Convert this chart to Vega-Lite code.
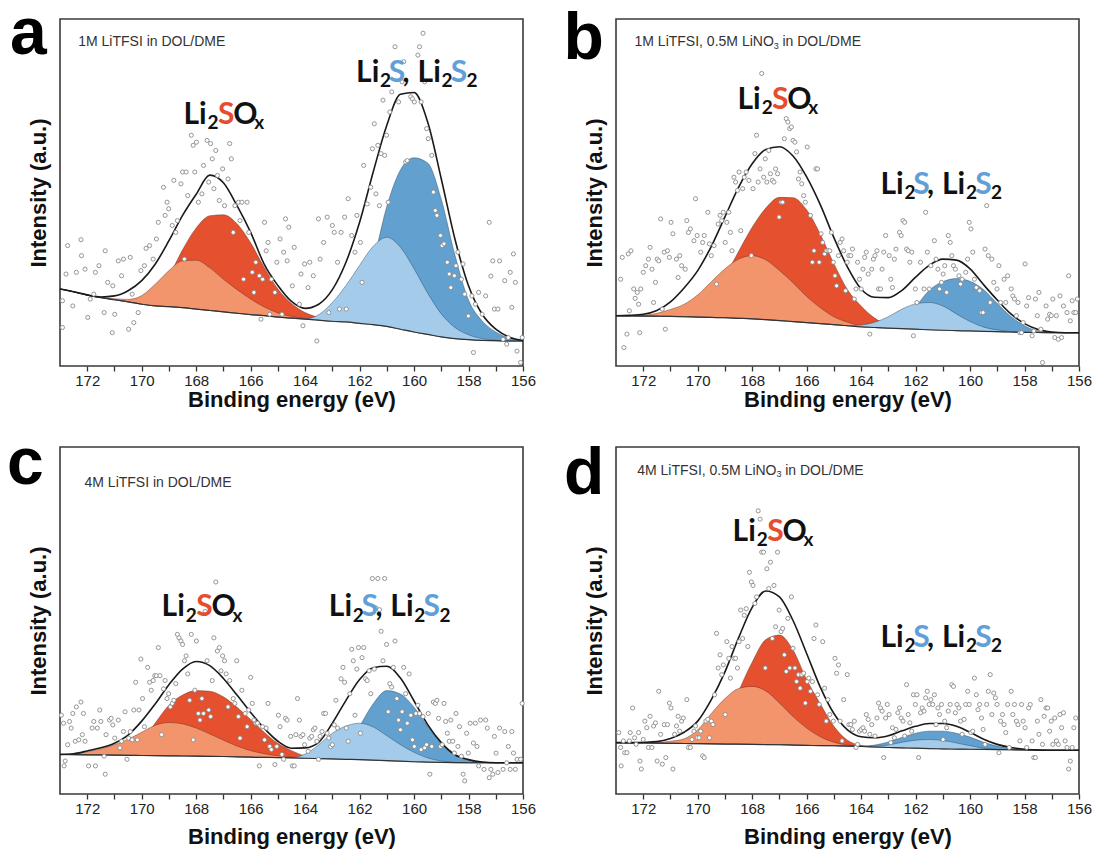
{
"$schema":"https://vega.github.io/schema/vega-lite/v6.json",
"padding":{"left":6,"top":0,"right":5,"bottom":5},
"bounds":"flush",
"columns":2,
"spacing":{"row":81,"column":93},
"datasets":{
"cv":[
{"p":"a","E":173,"base":22.2,"o":22.2,"r":22.2,"lb":22.2,"db":22.2,"env":22.2},
{"p":"a","E":172.5,"base":21.4,"o":21.4,"r":21.4,"lb":21.4,"db":21.4,"env":21.4},
{"p":"a","E":172,"base":20.4,"o":20.5,"r":20.4,"lb":20.4,"db":20.4,"env":20.5},
{"p":"a","E":171.5,"base":19.7,"o":19.8,"r":19.7,"lb":19.7,"db":19.7,"env":19.9},
{"p":"a","E":171,"base":19.1,"o":19.4,"r":19.1,"lb":19.1,"db":19.1,"env":20.2},
{"p":"a","E":170.5,"base":18.5,"o":19.2,"r":18.6,"lb":18.5,"db":18.5,"env":21.7},
{"p":"a","E":170,"base":17.8,"o":20.3,"r":18.6,"lb":17.8,"db":17.8,"env":24.6},
{"p":"a","E":169.5,"base":17.3,"o":23.6,"r":21.0,"lb":17.3,"db":17.3,"env":29.4},
{"p":"a","E":169,"base":17.1,"o":27.5,"r":26.0,"lb":17.1,"db":17.1,"env":36.1},
{"p":"a","E":168.5,"base":16.8,"o":30.3,"r":33.5,"lb":16.8,"db":16.8,"env":43.4},
{"p":"a","E":168,"base":16.4,"o":30.5,"r":39.8,"lb":16.4,"db":16.4,"env":49.5},
{"p":"a","E":167.5,"base":16.0,"o":28.3,"r":43.3,"lb":16.0,"db":16.0,"env":55.0},
{"p":"a","E":167,"base":15.6,"o":25.0,"r":43.6,"lb":15.6,"db":15.6,"env":52.8},
{"p":"a","E":166.5,"base":15.2,"o":22.0,"r":41.0,"lb":15.2,"db":15.2,"env":46.2},
{"p":"a","E":166,"base":14.8,"o":19.3,"r":35.5,"lb":14.8,"db":14.8,"env":38.5},
{"p":"a","E":165.5,"base":14.5,"o":17.0,"r":28.4,"lb":14.5,"db":14.5,"env":29.3},
{"p":"a","E":165,"base":14.1,"o":15.3,"r":22.2,"lb":14.1,"db":14.1,"env":23.2},
{"p":"a","E":164.5,"base":13.8,"o":14.3,"r":18.0,"lb":13.8,"db":13.8,"env":18.6},
{"p":"a","E":164,"base":13.5,"o":13.7,"r":15.4,"lb":13.6,"db":13.5,"env":16.6},
{"p":"a","E":163.5,"base":13.2,"o":13.3,"r":14.0,"lb":14.8,"db":13.2,"env":17.8},
{"p":"a","E":163,"base":12.9,"o":12.9,"r":13.2,"lb":18.3,"db":13.0,"env":22.0},
{"p":"a","E":162.5,"base":12.7,"o":12.7,"r":12.8,"lb":23.2,"db":14.0,"env":29.9},
{"p":"a","E":162,"base":12.3,"o":12.3,"r":12.3,"lb":29.0,"db":18.0,"env":41.4},
{"p":"a","E":161.5,"base":11.9,"o":11.9,"r":11.9,"lb":34.5,"db":30.0,"env":55.9},
{"p":"a","E":161,"base":11.4,"o":11.4,"r":11.4,"lb":37.1,"db":46.0,"env":69.4},
{"p":"a","E":160.5,"base":10.6,"o":10.6,"r":10.6,"lb":34.2,"db":56.5,"env":78.3},
{"p":"a","E":160,"base":9.8,"o":9.8,"r":9.8,"lb":28.0,"db":60.0,"env":78.8},
{"p":"a","E":159.5,"base":9.1,"o":9.1,"r":9.1,"lb":21.0,"db":58.5,"env":70.3},
{"p":"a","E":159,"base":8.4,"o":8.4,"r":8.4,"lb":15.0,"db":48.0,"env":53.9},
{"p":"a","E":158.5,"base":7.9,"o":7.9,"r":7.9,"lb":11.1,"db":32.0,"env":36.6},
{"p":"a","E":158,"base":7.6,"o":7.6,"r":7.6,"lb":9.0,"db":19.0,"env":23.1},
{"p":"a","E":157.5,"base":7.4,"o":7.4,"r":7.4,"lb":7.9,"db":13.0,"env":14.9},
{"p":"a","E":157,"base":7.3,"o":7.3,"r":7.3,"lb":7.4,"db":9.8,"env":10.6},
{"p":"a","E":156.5,"base":7.2,"o":7.2,"r":7.2,"lb":7.2,"db":8.0,"env":8.3},
{"p":"a","E":156,"base":7.2,"o":7.2,"r":7.2,"lb":7.2,"db":7.3,"env":7.4},
{"p":"b","E":173,"base":14.5,"o":14.5,"r":14.5,"lb":14.5,"db":14.5,"env":14.5},
{"p":"b","E":172.5,"base":14.45,"o":14.5,"r":14.45,"lb":14.45,"db":14.45,"env":14.6},
{"p":"b","E":172,"base":14.4,"o":14.6,"r":14.4,"lb":14.4,"db":14.4,"env":14.9},
{"p":"b","E":171.5,"base":14.35,"o":15.2,"r":14.4,"lb":14.35,"db":14.35,"env":16.0},
{"p":"b","E":171,"base":14.3,"o":16.3,"r":14.8,"lb":14.3,"db":14.3,"env":18.5},
{"p":"b","E":170.5,"base":14.2,"o":17.8,"r":15.8,"lb":14.2,"db":14.2,"env":22.5},
{"p":"b","E":170,"base":14.1,"o":20.5,"r":18.4,"lb":14.1,"db":14.1,"env":27.5},
{"p":"b","E":169.5,"base":14.0,"o":24.3,"r":21.5,"lb":14.0,"db":14.0,"env":34.5},
{"p":"b","E":169,"base":13.9,"o":28.0,"r":26.0,"lb":13.9,"db":13.9,"env":43.0},
{"p":"b","E":168.5,"base":13.75,"o":30.8,"r":33.0,"lb":13.75,"db":13.75,"env":51.5},
{"p":"b","E":168,"base":13.6,"o":31.8,"r":40.0,"lb":13.6,"db":13.6,"env":58.3},
{"p":"b","E":167.5,"base":13.35,"o":30.6,"r":45.5,"lb":13.35,"db":13.35,"env":62.4},
{"p":"b","E":167,"base":13.1,"o":27.5,"r":48.6,"lb":13.1,"db":13.1,"env":63.2},
{"p":"b","E":166.5,"base":12.8,"o":24.0,"r":48.5,"lb":12.8,"db":12.8,"env":60.5},
{"p":"b","E":166,"base":12.5,"o":20.0,"r":45.0,"lb":12.5,"db":12.5,"env":54.5},
{"p":"b","E":165.5,"base":12.2,"o":16.8,"r":38.0,"lb":12.2,"db":12.2,"env":46.5},
{"p":"b","E":165,"base":11.9,"o":14.2,"r":29.5,"lb":11.9,"db":11.9,"env":37.0},
{"p":"b","E":164.5,"base":11.6,"o":12.6,"r":22.0,"lb":11.6,"db":11.6,"env":28.5},
{"p":"b","E":164,"base":11.3,"o":11.6,"r":17.3,"lb":11.8,"db":11.3,"env":22.2},
{"p":"b","E":163.5,"base":11.1,"o":11.1,"r":13.8,"lb":12.6,"db":11.1,"env":19.8},
{"p":"b","E":163,"base":10.9,"o":10.9,"r":11.8,"lb":14.2,"db":11.0,"env":19.7},
{"p":"b","E":162.5,"base":10.75,"o":10.75,"r":11.0,"lb":16.4,"db":12.5,"env":21.8},
{"p":"b","E":162,"base":10.6,"o":10.6,"r":10.6,"lb":17.9,"db":17.0,"env":25.6},
{"p":"b","E":161.5,"base":10.45,"o":10.45,"r":10.45,"lb":18.3,"db":21.8,"env":29.0},
{"p":"b","E":161,"base":10.3,"o":10.3,"r":10.3,"lb":17.3,"db":24.3,"env":30.8},
{"p":"b","E":160.5,"base":10.2,"o":10.2,"r":10.2,"lb":15.0,"db":25.2,"env":30.5},
{"p":"b","E":160,"base":10.1,"o":10.1,"r":10.1,"lb":12.8,"db":24.4,"env":28.0},
{"p":"b","E":159.5,"base":10.0,"o":10.0,"r":10.0,"lb":11.2,"db":22.0,"env":23.4},
{"p":"b","E":159,"base":9.9,"o":9.9,"r":9.9,"lb":10.4,"db":18.0,"env":19.0},
{"p":"b","E":158.5,"base":9.8,"o":9.8,"r":9.8,"lb":9.9,"db":14.3,"env":15.0},
{"p":"b","E":158,"base":9.7,"o":9.7,"r":9.7,"lb":9.7,"db":11.6,"env":12.2},
{"p":"b","E":157.5,"base":9.65,"o":9.65,"r":9.65,"lb":9.65,"db":10.1,"env":10.5},
{"p":"b","E":157,"base":9.6,"o":9.6,"r":9.6,"lb":9.6,"db":9.7,"env":9.8},
{"p":"b","E":156.5,"base":9.6,"o":9.6,"r":9.6,"lb":9.6,"db":9.6,"env":9.6},
{"p":"b","E":156,"base":9.6,"o":9.6,"r":9.6,"lb":9.6,"db":9.6,"env":9.6},
{"p":"c","E":173,"base":11.4,"o":11.4,"r":11.4,"lb":11.4,"db":11.4,"env":11.4},
{"p":"c","E":172.5,"base":11.35,"o":11.5,"r":11.35,"lb":11.35,"db":11.35,"env":11.6},
{"p":"c","E":172,"base":11.3,"o":12.2,"r":11.3,"lb":11.3,"db":11.3,"env":12.4},
{"p":"c","E":171.5,"base":11.25,"o":13.0,"r":11.3,"lb":11.25,"db":11.25,"env":13.3},
{"p":"c","E":171,"base":11.2,"o":14.2,"r":11.5,"lb":11.2,"db":11.2,"env":14.6},
{"p":"c","E":170.5,"base":11.15,"o":15.8,"r":12.5,"lb":11.15,"db":11.15,"env":17.0},
{"p":"c","E":170,"base":11.1,"o":17.8,"r":15.0,"lb":11.1,"db":11.1,"env":21.0},
{"p":"c","E":169.5,"base":11.05,"o":19.8,"r":20.5,"lb":11.05,"db":11.05,"env":26.0},
{"p":"c","E":169,"base":11.0,"o":20.6,"r":25.6,"lb":11.0,"db":11.0,"env":31.5},
{"p":"c","E":168.5,"base":10.95,"o":20.2,"r":28.5,"lb":10.95,"db":10.95,"env":36.0},
{"p":"c","E":168,"base":10.9,"o":19.0,"r":29.8,"lb":10.9,"db":10.9,"env":38.2},
{"p":"c","E":167.5,"base":10.85,"o":17.3,"r":29.6,"lb":10.85,"db":10.85,"env":37.0},
{"p":"c","E":167,"base":10.8,"o":15.5,"r":28.0,"lb":10.8,"db":10.8,"env":33.3},
{"p":"c","E":166.5,"base":10.7,"o":13.8,"r":25.0,"lb":10.7,"db":10.7,"env":28.5},
{"p":"c","E":166,"base":10.6,"o":12.5,"r":21.5,"lb":10.6,"db":10.6,"env":23.5},
{"p":"c","E":165.5,"base":10.55,"o":11.6,"r":17.8,"lb":10.55,"db":10.55,"env":18.9},
{"p":"c","E":165,"base":10.5,"o":11.0,"r":14.6,"lb":10.5,"db":10.5,"env":15.2},
{"p":"c","E":164.5,"base":10.4,"o":10.6,"r":12.5,"lb":10.5,"db":10.4,"env":13.2},
{"p":"c","E":164,"base":10.3,"o":10.3,"r":11.0,"lb":11.5,"db":10.3,"env":13.3},
{"p":"c","E":163.5,"base":10.2,"o":10.2,"r":10.4,"lb":14.2,"db":10.2,"env":14.9},
{"p":"c","E":163,"base":10.1,"o":10.1,"r":10.1,"lb":17.5,"db":10.6,"env":20.4},
{"p":"c","E":162.5,"base":10.0,"o":10.0,"r":10.0,"lb":19.6,"db":13.5,"env":27.0},
{"p":"c","E":162,"base":9.9,"o":9.9,"r":9.9,"lb":20.4,"db":19.5,"env":33.0},
{"p":"c","E":161.5,"base":9.75,"o":9.75,"r":9.75,"lb":19.3,"db":26.0,"env":36.4},
{"p":"c","E":161,"base":9.6,"o":9.6,"r":9.6,"lb":16.8,"db":29.8,"env":36.8},
{"p":"c","E":160.5,"base":9.45,"o":9.45,"r":9.45,"lb":14.2,"db":28.8,"env":33.4},
{"p":"c","E":160,"base":9.3,"o":9.3,"r":9.3,"lb":12.0,"db":25.0,"env":26.8},
{"p":"c","E":159.5,"base":9.2,"o":9.2,"r":9.2,"lb":10.4,"db":19.5,"env":20.0},
{"p":"c","E":159,"base":9.1,"o":9.1,"r":9.1,"lb":9.5,"db":14.5,"env":14.8},
{"p":"c","E":158.5,"base":9.05,"o":9.05,"r":9.05,"lb":9.1,"db":11.2,"env":11.3},
{"p":"c","E":158,"base":9.0,"o":9.0,"r":9.0,"lb":9.0,"db":9.8,"env":9.9},
{"p":"c","E":157.5,"base":9.0,"o":9.0,"r":9.0,"lb":9.0,"db":9.2,"env":9.2},
{"p":"c","E":157,"base":9.0,"o":9.0,"r":9.0,"lb":9.0,"db":9.0,"env":9.0},
{"p":"c","E":156.5,"base":9.0,"o":9.0,"r":9.0,"lb":9.0,"db":9.0,"env":9.0},
{"p":"c","E":156,"base":9.0,"o":9.0,"r":9.0,"lb":9.0,"db":9.0,"env":9.0},
{"p":"d","E":173,"base":14.8,"o":14.8,"r":14.8,"lb":14.8,"db":14.8,"env":14.8},
{"p":"d","E":172.5,"base":14.75,"o":14.75,"r":14.75,"lb":14.75,"db":14.75,"env":14.8},
{"p":"d","E":172,"base":14.7,"o":14.7,"r":14.7,"lb":14.7,"db":14.7,"env":14.9},
{"p":"d","E":171.5,"base":14.65,"o":14.8,"r":14.65,"lb":14.65,"db":14.65,"env":15.1},
{"p":"d","E":171,"base":14.6,"o":15.2,"r":14.6,"lb":14.6,"db":14.6,"env":16.0},
{"p":"d","E":170.5,"base":14.55,"o":15.9,"r":14.55,"lb":14.55,"db":14.55,"env":17.8},
{"p":"d","E":170,"base":14.5,"o":18.5,"r":14.6,"lb":14.5,"db":14.5,"env":21.0},
{"p":"d","E":169.5,"base":14.45,"o":23.2,"r":15.5,"lb":14.45,"db":14.45,"env":27.2},
{"p":"d","E":169,"base":14.4,"o":27.5,"r":19.0,"lb":14.4,"db":14.4,"env":35.2},
{"p":"d","E":168.5,"base":14.35,"o":30.4,"r":29.5,"lb":14.35,"db":14.35,"env":45.0},
{"p":"d","E":168,"base":14.3,"o":31.0,"r":38.0,"lb":14.3,"db":14.3,"env":53.8},
{"p":"d","E":167.5,"base":14.25,"o":29.7,"r":44.5,"lb":14.25,"db":14.25,"env":58.5},
{"p":"d","E":167,"base":14.2,"o":26.2,"r":45.8,"lb":14.2,"db":14.2,"env":56.8},
{"p":"d","E":166.5,"base":14.1,"o":22.3,"r":41.5,"lb":14.1,"db":14.1,"env":50.0},
{"p":"d","E":166,"base":14.0,"o":19.0,"r":33.0,"lb":14.0,"db":14.0,"env":40.5},
{"p":"d","E":165.5,"base":13.95,"o":16.5,"r":26.0,"lb":13.95,"db":13.95,"env":30.8},
{"p":"d","E":165,"base":13.9,"o":14.9,"r":19.5,"lb":13.9,"db":13.9,"env":23.2},
{"p":"d","E":164.5,"base":13.8,"o":14.1,"r":15.5,"lb":13.8,"db":13.8,"env":18.5},
{"p":"d","E":164,"base":13.7,"o":13.8,"r":14.0,"lb":13.7,"db":13.8,"env":16.5},
{"p":"d","E":163.5,"base":13.55,"o":13.55,"r":13.55,"lb":13.7,"db":14.1,"env":16.2},
{"p":"d","E":163,"base":13.4,"o":13.4,"r":13.4,"lb":14.1,"db":15.0,"env":16.8},
{"p":"d","E":162.5,"base":13.3,"o":13.3,"r":13.3,"lb":14.9,"db":16.3,"env":18.2},
{"p":"d","E":162,"base":13.2,"o":13.2,"r":13.2,"lb":15.5,"db":17.5,"env":19.5},
{"p":"d","E":161.5,"base":13.1,"o":13.1,"r":13.1,"lb":15.7,"db":18.1,"env":20.3},
{"p":"d","E":161,"base":13.0,"o":13.0,"r":13.0,"lb":15.4,"db":18.1,"env":20.3},
{"p":"d","E":160.5,"base":12.95,"o":12.95,"r":12.95,"lb":14.7,"db":17.5,"env":19.5},
{"p":"d","E":160,"base":12.9,"o":12.9,"r":12.9,"lb":13.9,"db":16.4,"env":17.8},
{"p":"d","E":159.5,"base":12.85,"o":12.85,"r":12.85,"lb":13.2,"db":14.9,"env":15.8},
{"p":"d","E":159,"base":12.8,"o":12.8,"r":12.8,"lb":12.9,"db":13.8,"env":14.3},
{"p":"d","E":158.5,"base":12.75,"o":12.75,"r":12.75,"lb":12.75,"db":13.1,"env":13.4},
{"p":"d","E":158,"base":12.7,"o":12.7,"r":12.7,"lb":12.7,"db":12.8,"env":12.9},
{"p":"d","E":157.5,"base":12.65,"o":12.65,"r":12.65,"lb":12.65,"db":12.65,"env":12.7},
{"p":"d","E":157,"base":12.6,"o":12.6,"r":12.6,"lb":12.6,"db":12.6,"env":12.6},
{"p":"d","E":156.5,"base":12.6,"o":12.6,"r":12.6,"lb":12.6,"db":12.6,"env":12.6},
{"p":"d","E":156,"base":12.6,"o":12.6,"r":12.6,"lb":12.6,"db":12.6,"env":12.6}
],
"pts":[
{"p":"a","E":172.91,"I":18.8},{"p":"a","E":172.91,"I":11.1},{"p":"a","E":172.78,"I":26.5},{"p":"a","E":172.72,"I":34.7},{"p":"a","E":172.53,"I":17.3},{"p":"a","E":172.4,"I":27.0},{"p":"a","E":172.23,"I":36.4},{"p":"a","E":172.21,"I":31.8},{"p":"a","E":172.08,"I":27.9},{"p":"a","E":171.98,"I":14.0},{"p":"a","E":171.89,"I":19.3},{"p":"a","E":171.76,"I":20.7},{"p":"a","E":171.7,"I":27.0},{"p":"a","E":171.57,"I":28.9},{"p":"a","E":171.38,"I":15.4},{"p":"a","E":171.34,"I":33.2},{"p":"a","E":171.25,"I":24.1},{"p":"a","E":171.08,"I":9.6},{"p":"a","E":171.06,"I":23.1},{"p":"a","E":170.99,"I":14.9},{"p":"a","E":170.86,"I":30.3},{"p":"a","E":170.74,"I":26.0},{"p":"a","E":170.67,"I":30.8},{"p":"a","E":170.48,"I":10.6},{"p":"a","E":170.42,"I":31.3},{"p":"a","E":170.35,"I":20.7},{"p":"a","E":170.29,"I":12.5},{"p":"a","E":170.13,"I":15.4},{"p":"a","E":170.03,"I":27.5},{"p":"a","E":169.9,"I":28.9},{"p":"a","E":169.84,"I":33.9},{"p":"a","E":169.71,"I":34.7},{"p":"a","E":169.58,"I":30.8},{"p":"a","E":169.46,"I":36.6},{"p":"a","E":169.39,"I":41.4},{"p":"a","E":169.2,"I":51.5},{"p":"a","E":169.14,"I":43.4},{"p":"a","E":169.07,"I":47.2},{"p":"a","E":169.01,"I":45.3},{"p":"a","E":168.88,"I":40.5},{"p":"a","E":168.82,"I":53.5},{"p":"a","E":168.75,"I":38.5},{"p":"a","E":168.69,"I":41.9},{"p":"a","E":168.56,"I":52.5},{"p":"a","E":168.5,"I":55.9},{"p":"a","E":168.43,"I":30.8},{"p":"a","E":168.37,"I":55.9},{"p":"a","E":168.31,"I":49.1},{"p":"a","E":168.18,"I":66.5},{"p":"a","E":168.11,"I":63.6},{"p":"a","E":168.05,"I":55.9},{"p":"a","E":167.99,"I":64.5},{"p":"a","E":167.92,"I":47.2},{"p":"a","E":167.79,"I":49.6},{"p":"a","E":167.73,"I":57.8},{"p":"a","E":167.6,"I":65.0},{"p":"a","E":167.54,"I":53.0},{"p":"a","E":167.47,"I":64.1},{"p":"a","E":167.41,"I":59.7},{"p":"a","E":167.35,"I":51.1},{"p":"a","E":167.28,"I":62.1},{"p":"a","E":167.22,"I":54.9},{"p":"a","E":167.15,"I":47.7},{"p":"a","E":167.03,"I":56.8},{"p":"a","E":166.96,"I":46.2},{"p":"a","E":166.83,"I":53.9},{"p":"a","E":166.77,"I":64.1},{"p":"a","E":166.71,"I":59.7},{"p":"a","E":166.64,"I":38.5},{"p":"a","E":166.58,"I":46.2},{"p":"a","E":166.45,"I":47.2},{"p":"a","E":166.39,"I":41.9},{"p":"a","E":166.32,"I":47.2},{"p":"a","E":166.26,"I":25.0},{"p":"a","E":166.13,"I":47.2},{"p":"a","E":166.07,"I":38.5},{"p":"a","E":165.94,"I":27.0},{"p":"a","E":165.88,"I":21.2},{"p":"a","E":165.81,"I":29.9},{"p":"a","E":165.68,"I":26.0},{"p":"a","E":165.62,"I":13.5},{"p":"a","E":165.56,"I":25.0},{"p":"a","E":165.49,"I":41.4},{"p":"a","E":165.43,"I":33.2},{"p":"a","E":165.36,"I":35.6},{"p":"a","E":165.3,"I":14.9},{"p":"a","E":165.24,"I":25.0},{"p":"a","E":165.11,"I":21.2},{"p":"a","E":165.04,"I":29.9},{"p":"a","E":164.92,"I":36.6},{"p":"a","E":164.85,"I":14.9},{"p":"a","E":164.79,"I":32.8},{"p":"a","E":164.72,"I":42.4},{"p":"a","E":164.66,"I":30.3},{"p":"a","E":164.6,"I":40.0},{"p":"a","E":164.47,"I":23.1},{"p":"a","E":164.4,"I":34.2},{"p":"a","E":164.21,"I":17.8},{"p":"a","E":164.15,"I":26.5},{"p":"a","E":164.08,"I":11.6},{"p":"a","E":164.02,"I":29.4},{"p":"a","E":163.89,"I":22.6},{"p":"a","E":163.83,"I":29.9},{"p":"a","E":163.7,"I":26.0},{"p":"a","E":163.57,"I":7.2},{"p":"a","E":163.51,"I":42.4},{"p":"a","E":163.45,"I":30.8},{"p":"a","E":163.32,"I":35.6},{"p":"a","E":163.19,"I":42.9},{"p":"a","E":163.13,"I":15.4},{"p":"a","E":163.0,"I":40.5},{"p":"a","E":162.93,"I":38.5},{"p":"a","E":162.81,"I":29.9},{"p":"a","E":162.74,"I":16.4},{"p":"a","E":162.68,"I":38.5},{"p":"a","E":162.55,"I":42.9},{"p":"a","E":162.49,"I":16.4},{"p":"a","E":162.42,"I":48.2},{"p":"a","E":162.29,"I":37.6},{"p":"a","E":162.17,"I":32.8},{"p":"a","E":162.1,"I":43.4},{"p":"a","E":161.97,"I":35.6},{"p":"a","E":161.91,"I":24.1},{"p":"a","E":161.85,"I":57.8},{"p":"a","E":161.72,"I":46.7},{"p":"a","E":161.59,"I":51.5},{"p":"a","E":161.53,"I":62.6},{"p":"a","E":161.46,"I":69.8},{"p":"a","E":161.4,"I":49.6},{"p":"a","E":161.33,"I":63.6},{"p":"a","E":161.27,"I":46.2},{"p":"a","E":161.21,"I":61.2},{"p":"a","E":161.14,"I":76.6},{"p":"a","E":161.08,"I":60.7},{"p":"a","E":161.01,"I":66.5},{"p":"a","E":160.95,"I":47.2},{"p":"a","E":160.89,"I":73.2},{"p":"a","E":160.82,"I":79.0},{"p":"a","E":160.7,"I":92.0},{"p":"a","E":160.57,"I":76.1},{"p":"a","E":160.44,"I":81.9},{"p":"a","E":160.38,"I":87.7},{"p":"a","E":160.31,"I":58.8},{"p":"a","E":160.25,"I":59.2},{"p":"a","E":160.12,"I":77.6},{"p":"a","E":160.06,"I":77.0},{"p":"a","E":159.99,"I":76.1},{"p":"a","E":159.86,"I":89.6},{"p":"a","E":159.8,"I":92.0},{"p":"a","E":159.74,"I":76.1},{"p":"a","E":159.67,"I":95.9},{"p":"a","E":159.61,"I":81.9},{"p":"a","E":159.54,"I":68.4},{"p":"a","E":159.48,"I":65.5},{"p":"a","E":159.35,"I":60.7},{"p":"a","E":159.29,"I":50.1},{"p":"a","E":159.22,"I":44.8},{"p":"a","E":159.16,"I":43.4},{"p":"a","E":159.03,"I":37.6},{"p":"a","E":158.97,"I":34.7},{"p":"a","E":158.9,"I":35.2},{"p":"a","E":158.78,"I":29.9},{"p":"a","E":158.71,"I":26.5},{"p":"a","E":158.65,"I":22.6},{"p":"a","E":158.52,"I":26.0},{"p":"a","E":158.46,"I":28.9},{"p":"a","E":158.39,"I":32.8},{"p":"a","E":158.26,"I":25.0},{"p":"a","E":158.2,"I":29.4},{"p":"a","E":158.14,"I":20.7},{"p":"a","E":158.01,"I":14.4},{"p":"a","E":157.88,"I":20.2},{"p":"a","E":157.82,"I":3.9},{"p":"a","E":157.75,"I":17.8},{"p":"a","E":157.63,"I":21.2},{"p":"a","E":157.5,"I":14.9},{"p":"a","E":157.37,"I":20.2},{"p":"a","E":157.24,"I":41.4},{"p":"a","E":157.18,"I":25.9},{"p":"a","E":157.11,"I":30.3},{"p":"a","E":157.05,"I":16.4},{"p":"a","E":156.92,"I":16.4},{"p":"a","E":156.86,"I":30.3},{"p":"a","E":156.73,"I":7.7},{"p":"a","E":156.67,"I":24.6},{"p":"a","E":156.6,"I":6.3},{"p":"a","E":156.54,"I":8.2},{"p":"a","E":156.47,"I":27.0},{"p":"a","E":156.41,"I":16.9},{"p":"a","E":156.35,"I":32.3},{"p":"a","E":156.28,"I":24.1},{"p":"a","E":156.22,"I":4.3},{"p":"a","E":156.09,"I":1.0},{"p":"a","E":156.03,"I":8.2},
{"p":"b","E":172.83,"I":25.0},{"p":"b","E":172.77,"I":31.3},{"p":"b","E":172.71,"I":5.3},{"p":"b","E":172.6,"I":9.2},{"p":"b","E":172.55,"I":32.3},{"p":"b","E":172.51,"I":15.9},{"p":"b","E":172.45,"I":33.2},{"p":"b","E":172.35,"I":22.2},{"p":"b","E":172.3,"I":19.5},{"p":"b","E":172.22,"I":21.2},{"p":"b","E":172.17,"I":17.8},{"p":"b","E":172.13,"I":9.6},{"p":"b","E":172.09,"I":22.2},{"p":"b","E":172.0,"I":27.0},{"p":"b","E":171.91,"I":28.9},{"p":"b","E":171.81,"I":30.8},{"p":"b","E":171.75,"I":34.2},{"p":"b","E":171.68,"I":27.9},{"p":"b","E":171.62,"I":18.3},{"p":"b","E":171.55,"I":24.1},{"p":"b","E":171.49,"I":30.8},{"p":"b","E":171.43,"I":30.3},{"p":"b","E":171.36,"I":42.4},{"p":"b","E":171.3,"I":16.4},{"p":"b","E":171.23,"I":32.8},{"p":"b","E":171.19,"I":10.6},{"p":"b","E":171.11,"I":33.2},{"p":"b","E":171.04,"I":31.3},{"p":"b","E":170.98,"I":41.4},{"p":"b","E":170.91,"I":38.1},{"p":"b","E":170.78,"I":30.8},{"p":"b","E":170.72,"I":25.5},{"p":"b","E":170.66,"I":31.8},{"p":"b","E":170.59,"I":28.9},{"p":"b","E":170.46,"I":27.9},{"p":"b","E":170.4,"I":41.9},{"p":"b","E":170.34,"I":38.5},{"p":"b","E":170.27,"I":39.5},{"p":"b","E":170.14,"I":36.1},{"p":"b","E":170.08,"I":48.2},{"p":"b","E":170.02,"I":37.6},{"p":"b","E":169.89,"I":32.8},{"p":"b","E":169.82,"I":35.6},{"p":"b","E":169.76,"I":37.6},{"p":"b","E":169.63,"I":44.3},{"p":"b","E":169.57,"I":35.2},{"p":"b","E":169.5,"I":31.8},{"p":"b","E":169.4,"I":34.7},{"p":"b","E":169.31,"I":23.6},{"p":"b","E":169.25,"I":40.9},{"p":"b","E":169.18,"I":43.4},{"p":"b","E":169.12,"I":41.9},{"p":"b","E":169.06,"I":44.3},{"p":"b","E":168.99,"I":35.6},{"p":"b","E":168.93,"I":41.4},{"p":"b","E":168.86,"I":44.3},{"p":"b","E":168.8,"I":38.5},{"p":"b","E":168.74,"I":33.2},{"p":"b","E":168.67,"I":54.4},{"p":"b","E":168.61,"I":53.0},{"p":"b","E":168.54,"I":50.6},{"p":"b","E":168.48,"I":55.9},{"p":"b","E":168.42,"I":39.0},{"p":"b","E":168.35,"I":51.1},{"p":"b","E":168.29,"I":54.4},{"p":"b","E":168.22,"I":55.9},{"p":"b","E":168.12,"I":53.5},{"p":"b","E":168.03,"I":31.8},{"p":"b","E":167.97,"I":51.1},{"p":"b","E":167.9,"I":61.2},{"p":"b","E":167.84,"I":66.5},{"p":"b","E":167.78,"I":53.0},{"p":"b","E":167.71,"I":56.8},{"p":"b","E":167.65,"I":84.3},{"p":"b","E":167.58,"I":54.4},{"p":"b","E":167.52,"I":59.7},{"p":"b","E":167.46,"I":53.0},{"p":"b","E":167.39,"I":62.1},{"p":"b","E":167.33,"I":55.4},{"p":"b","E":167.26,"I":53.5},{"p":"b","E":167.2,"I":53.0},{"p":"b","E":167.14,"I":56.8},{"p":"b","E":167.07,"I":55.4},{"p":"b","E":167.01,"I":42.9},{"p":"b","E":166.94,"I":47.2},{"p":"b","E":166.88,"I":47.2},{"p":"b","E":166.82,"I":65.5},{"p":"b","E":166.75,"I":71.3},{"p":"b","E":166.69,"I":70.3},{"p":"b","E":166.62,"I":68.4},{"p":"b","E":166.56,"I":68.9},{"p":"b","E":166.5,"I":65.0},{"p":"b","E":166.43,"I":64.5},{"p":"b","E":166.37,"I":61.7},{"p":"b","E":166.3,"I":53.9},{"p":"b","E":166.24,"I":55.9},{"p":"b","E":166.18,"I":52.5},{"p":"b","E":166.11,"I":49.1},{"p":"b","E":166.05,"I":47.2},{"p":"b","E":165.98,"I":63.1},{"p":"b","E":165.86,"I":43.4},{"p":"b","E":165.79,"I":29.9},{"p":"b","E":165.73,"I":33.2},{"p":"b","E":165.66,"I":56.8},{"p":"b","E":165.6,"I":56.8},{"p":"b","E":165.54,"I":29.9},{"p":"b","E":165.47,"I":38.1},{"p":"b","E":165.41,"I":35.6},{"p":"b","E":165.34,"I":32.3},{"p":"b","E":165.28,"I":33.2},{"p":"b","E":165.22,"I":33.2},{"p":"b","E":165.15,"I":33.2},{"p":"b","E":165.09,"I":38.5},{"p":"b","E":165.02,"I":29.9},{"p":"b","E":164.96,"I":26.0},{"p":"b","E":164.9,"I":23.1},{"p":"b","E":164.83,"I":31.8},{"p":"b","E":164.77,"I":35.6},{"p":"b","E":164.7,"I":36.6},{"p":"b","E":164.64,"I":33.2},{"p":"b","E":164.57,"I":21.7},{"p":"b","E":164.51,"I":29.9},{"p":"b","E":164.45,"I":31.8},{"p":"b","E":164.38,"I":31.8},{"p":"b","E":164.32,"I":33.7},{"p":"b","E":164.25,"I":19.3},{"p":"b","E":164.19,"I":22.2},{"p":"b","E":164.13,"I":29.9},{"p":"b","E":164.06,"I":25.0},{"p":"b","E":164.0,"I":22.2},{"p":"b","E":163.93,"I":27.9},{"p":"b","E":163.87,"I":31.3},{"p":"b","E":163.81,"I":32.8},{"p":"b","E":163.74,"I":26.5},{"p":"b","E":163.68,"I":9.2},{"p":"b","E":163.61,"I":27.9},{"p":"b","E":163.55,"I":30.8},{"p":"b","E":163.49,"I":31.8},{"p":"b","E":163.42,"I":33.2},{"p":"b","E":163.36,"I":22.2},{"p":"b","E":163.29,"I":22.2},{"p":"b","E":163.23,"I":27.9},{"p":"b","E":163.17,"I":32.8},{"p":"b","E":163.1,"I":37.6},{"p":"b","E":162.97,"I":31.8},{"p":"b","E":162.91,"I":25.0},{"p":"b","E":162.85,"I":22.6},{"p":"b","E":162.78,"I":30.8},{"p":"b","E":162.72,"I":33.7},{"p":"b","E":162.59,"I":38.5},{"p":"b","E":162.53,"I":37.6},{"p":"b","E":162.46,"I":41.9},{"p":"b","E":162.4,"I":41.4},{"p":"b","E":162.33,"I":33.7},{"p":"b","E":162.27,"I":33.2},{"p":"b","E":162.21,"I":29.9},{"p":"b","E":162.14,"I":32.8},{"p":"b","E":162.08,"I":8.7},{"p":"b","E":162.01,"I":22.2},{"p":"b","E":161.95,"I":18.3},{"p":"b","E":161.82,"I":29.9},{"p":"b","E":161.69,"I":22.2},{"p":"b","E":161.63,"I":44.3},{"p":"b","E":161.57,"I":32.8},{"p":"b","E":161.5,"I":22.2},{"p":"b","E":161.44,"I":28.9},{"p":"b","E":161.31,"I":36.1},{"p":"b","E":161.25,"I":30.8},{"p":"b","E":161.18,"I":27.9},{"p":"b","E":161.12,"I":22.2},{"p":"b","E":161.05,"I":24.1},{"p":"b","E":160.99,"I":26.5},{"p":"b","E":160.93,"I":28.9},{"p":"b","E":160.86,"I":21.2},{"p":"b","E":160.8,"I":37.6},{"p":"b","E":160.73,"I":35.6},{"p":"b","E":160.67,"I":31.8},{"p":"b","E":160.61,"I":28.9},{"p":"b","E":160.54,"I":27.9},{"p":"b","E":160.41,"I":26.0},{"p":"b","E":160.35,"I":23.6},{"p":"b","E":160.29,"I":25.0},{"p":"b","E":160.16,"I":27.0},{"p":"b","E":160.09,"I":30.8},{"p":"b","E":160.03,"I":41.4},{"p":"b","E":159.97,"I":39.5},{"p":"b","E":159.9,"I":32.8},{"p":"b","E":159.84,"I":25.0},{"p":"b","E":159.77,"I":22.6},{"p":"b","E":159.65,"I":21.7},{"p":"b","E":159.58,"I":15.4},{"p":"b","E":159.52,"I":15.4},{"p":"b","E":159.45,"I":33.7},{"p":"b","E":159.39,"I":46.2},{"p":"b","E":159.33,"I":31.8},{"p":"b","E":159.26,"I":18.3},{"p":"b","E":159.2,"I":30.8},{"p":"b","E":159.13,"I":24.1},{"p":"b","E":159.01,"I":22.2},{"p":"b","E":158.94,"I":28.9},{"p":"b","E":158.88,"I":18.3},{"p":"b","E":158.75,"I":25.0},{"p":"b","E":158.69,"I":18.3},{"p":"b","E":158.62,"I":26.0},{"p":"b","E":158.49,"I":22.2},{"p":"b","E":158.43,"I":20.2},{"p":"b","E":158.37,"I":19.3},{"p":"b","E":158.3,"I":14.5},{"p":"b","E":158.24,"I":18.3},{"p":"b","E":158.17,"I":9.6},{"p":"b","E":158.11,"I":9.6},{"p":"b","E":158.05,"I":12.5},{"p":"b","E":157.98,"I":29.4},{"p":"b","E":157.92,"I":17.3},{"p":"b","E":157.85,"I":19.7},{"p":"b","E":157.72,"I":8.7},{"p":"b","E":157.66,"I":10.1},{"p":"b","E":157.6,"I":19.3},{"p":"b","E":157.53,"I":14.5},{"p":"b","E":157.47,"I":21.2},{"p":"b","E":157.4,"I":10.6},{"p":"b","E":157.34,"I":1.0},{"p":"b","E":157.21,"I":17.3},{"p":"b","E":157.15,"I":13.5},{"p":"b","E":157.08,"I":14.9},{"p":"b","E":157.02,"I":14.5},{"p":"b","E":156.96,"I":19.3},{"p":"b","E":156.89,"I":8.2},{"p":"b","E":156.83,"I":14.5},{"p":"b","E":156.76,"I":7.7},{"p":"b","E":156.7,"I":20.2},{"p":"b","E":156.64,"I":8.2},{"p":"b","E":156.57,"I":17.3},{"p":"b","E":156.44,"I":15.4},{"p":"b","E":156.38,"I":26.0},{"p":"b","E":156.32,"I":13.0},{"p":"b","E":156.25,"I":18.8},{"p":"b","E":156.19,"I":15.4},{"p":"b","E":156.12,"I":15.4},{"p":"b","E":156.06,"I":19.3},
{"p":"c","E":172.95,"I":22.7},{"p":"c","E":172.87,"I":20.4},{"p":"c","E":172.85,"I":8.1},{"p":"c","E":172.81,"I":9.5},{"p":"c","E":172.72,"I":14.2},{"p":"c","E":172.65,"I":20.9},{"p":"c","E":172.59,"I":19.0},{"p":"c","E":172.53,"I":23.2},{"p":"c","E":172.44,"I":15.2},{"p":"c","E":172.4,"I":25.1},{"p":"c","E":172.31,"I":15.6},{"p":"c","E":172.23,"I":26.5},{"p":"c","E":172.18,"I":17.1},{"p":"c","E":172.14,"I":23.2},{"p":"c","E":172.08,"I":15.2},{"p":"c","E":171.95,"I":8.1},{"p":"c","E":171.82,"I":19.0},{"p":"c","E":171.76,"I":20.9},{"p":"c","E":171.7,"I":8.1},{"p":"c","E":171.63,"I":19.0},{"p":"c","E":171.54,"I":24.2},{"p":"c","E":171.5,"I":20.9},{"p":"c","E":171.38,"I":10.9},{"p":"c","E":171.34,"I":5.7},{"p":"c","E":171.31,"I":17.1},{"p":"c","E":171.18,"I":21.3},{"p":"c","E":171.12,"I":21.8},{"p":"c","E":171.06,"I":19.9},{"p":"c","E":170.99,"I":16.1},{"p":"c","E":170.86,"I":21.3},{"p":"c","E":170.8,"I":13.3},{"p":"c","E":170.74,"I":15.2},{"p":"c","E":170.67,"I":18.0},{"p":"c","E":170.61,"I":23.7},{"p":"c","E":170.54,"I":10.0},{"p":"c","E":170.48,"I":16.1},{"p":"c","E":170.42,"I":18.0},{"p":"c","E":170.35,"I":15.6},{"p":"c","E":170.29,"I":24.2},{"p":"c","E":170.22,"I":32.2},{"p":"c","E":170.16,"I":15.6},{"p":"c","E":170.1,"I":24.2},{"p":"c","E":170.03,"I":38.9},{"p":"c","E":169.97,"I":27.5},{"p":"c","E":169.9,"I":19.4},{"p":"c","E":169.78,"I":36.5},{"p":"c","E":169.71,"I":32.2},{"p":"c","E":169.65,"I":29.9},{"p":"c","E":169.58,"I":32.7},{"p":"c","E":169.52,"I":34.1},{"p":"c","E":169.46,"I":34.1},{"p":"c","E":169.39,"I":42.2},{"p":"c","E":169.33,"I":34.1},{"p":"c","E":169.27,"I":17.1},{"p":"c","E":169.2,"I":30.3},{"p":"c","E":169.14,"I":32.7},{"p":"c","E":169.07,"I":27.5},{"p":"c","E":169.01,"I":28.9},{"p":"c","E":168.95,"I":25.1},{"p":"c","E":168.88,"I":26.1},{"p":"c","E":168.82,"I":27.0},{"p":"c","E":168.75,"I":31.8},{"p":"c","E":168.69,"I":46.0},{"p":"c","E":168.63,"I":45.0},{"p":"c","E":168.56,"I":44.1},{"p":"c","E":168.5,"I":43.1},{"p":"c","E":168.43,"I":38.4},{"p":"c","E":168.37,"I":39.8},{"p":"c","E":168.31,"I":34.6},{"p":"c","E":168.24,"I":27.0},{"p":"c","E":168.18,"I":46.0},{"p":"c","E":168.11,"I":15.6},{"p":"c","E":168.05,"I":29.9},{"p":"c","E":167.99,"I":44.1},{"p":"c","E":167.92,"I":23.2},{"p":"c","E":167.86,"I":21.3},{"p":"c","E":167.79,"I":27.5},{"p":"c","E":167.73,"I":23.2},{"p":"c","E":167.67,"I":52.6},{"p":"c","E":167.6,"I":38.4},{"p":"c","E":167.54,"I":24.2},{"p":"c","E":167.47,"I":22.3},{"p":"c","E":167.41,"I":32.7},{"p":"c","E":167.35,"I":45.0},{"p":"c","E":167.28,"I":61.1},{"p":"c","E":167.22,"I":41.2},{"p":"c","E":167.15,"I":42.2},{"p":"c","E":167.09,"I":35.5},{"p":"c","E":167.03,"I":39.8},{"p":"c","E":166.96,"I":38.4},{"p":"c","E":166.9,"I":34.6},{"p":"c","E":166.83,"I":25.1},{"p":"c","E":166.77,"I":32.7},{"p":"c","E":166.64,"I":27.5},{"p":"c","E":166.58,"I":26.1},{"p":"c","E":166.51,"I":38.4},{"p":"c","E":166.45,"I":22.3},{"p":"c","E":166.39,"I":16.1},{"p":"c","E":166.32,"I":29.9},{"p":"c","E":166.2,"I":23.2},{"p":"c","E":166.13,"I":19.4},{"p":"c","E":166.07,"I":24.2},{"p":"c","E":166.0,"I":33.6},{"p":"c","E":165.94,"I":26.1},{"p":"c","E":165.88,"I":21.3},{"p":"c","E":165.81,"I":20.4},{"p":"c","E":165.75,"I":20.4},{"p":"c","E":165.68,"I":8.1},{"p":"c","E":165.56,"I":19.4},{"p":"c","E":165.49,"I":15.6},{"p":"c","E":165.43,"I":19.0},{"p":"c","E":165.36,"I":26.1},{"p":"c","E":165.3,"I":13.7},{"p":"c","E":165.24,"I":12.8},{"p":"c","E":165.11,"I":8.5},{"p":"c","E":165.04,"I":13.7},{"p":"c","E":164.98,"I":22.7},{"p":"c","E":164.92,"I":19.4},{"p":"c","E":164.85,"I":11.4},{"p":"c","E":164.79,"I":10.0},{"p":"c","E":164.72,"I":21.8},{"p":"c","E":164.66,"I":21.3},{"p":"c","E":164.53,"I":16.6},{"p":"c","E":164.47,"I":8.1},{"p":"c","E":164.4,"I":8.1},{"p":"c","E":164.34,"I":17.1},{"p":"c","E":164.28,"I":27.5},{"p":"c","E":164.21,"I":21.3},{"p":"c","E":164.15,"I":16.6},{"p":"c","E":164.08,"I":17.1},{"p":"c","E":164.02,"I":14.2},{"p":"c","E":163.89,"I":12.3},{"p":"c","E":163.83,"I":16.1},{"p":"c","E":163.76,"I":16.6},{"p":"c","E":163.7,"I":18.5},{"p":"c","E":163.64,"I":19.0},{"p":"c","E":163.57,"I":15.2},{"p":"c","E":163.51,"I":10.0},{"p":"c","E":163.45,"I":16.6},{"p":"c","E":163.38,"I":18.0},{"p":"c","E":163.32,"I":23.2},{"p":"c","E":163.25,"I":23.2},{"p":"c","E":163.19,"I":17.5},{"p":"c","E":163.13,"I":16.1},{"p":"c","E":163.06,"I":13.7},{"p":"c","E":163.0,"I":14.2},{"p":"c","E":162.93,"I":19.9},{"p":"c","E":162.87,"I":27.0},{"p":"c","E":162.81,"I":19.0},{"p":"c","E":162.68,"I":33.2},{"p":"c","E":162.61,"I":36.5},{"p":"c","E":162.55,"I":32.2},{"p":"c","E":162.49,"I":19.0},{"p":"c","E":162.42,"I":15.2},{"p":"c","E":162.36,"I":28.9},{"p":"c","E":162.29,"I":41.7},{"p":"c","E":162.23,"I":38.4},{"p":"c","E":162.17,"I":22.7},{"p":"c","E":162.1,"I":36.0},{"p":"c","E":162.04,"I":42.2},{"p":"c","E":161.97,"I":17.5},{"p":"c","E":161.91,"I":39.3},{"p":"c","E":161.85,"I":42.2},{"p":"c","E":161.78,"I":33.2},{"p":"c","E":161.72,"I":32.7},{"p":"c","E":161.65,"I":35.5},{"p":"c","E":161.59,"I":28.9},{"p":"c","E":161.53,"I":62.1},{"p":"c","E":161.46,"I":36.0},{"p":"c","E":161.4,"I":53.6},{"p":"c","E":161.33,"I":62.1},{"p":"c","E":161.27,"I":53.1},{"p":"c","E":161.21,"I":46.9},{"p":"c","E":161.14,"I":38.4},{"p":"c","E":161.08,"I":62.1},{"p":"c","E":161.01,"I":43.1},{"p":"c","E":160.95,"I":23.7},{"p":"c","E":160.89,"I":31.8},{"p":"c","E":160.82,"I":30.8},{"p":"c","E":160.76,"I":36.5},{"p":"c","E":160.7,"I":44.1},{"p":"c","E":160.63,"I":27.5},{"p":"c","E":160.57,"I":21.3},{"p":"c","E":160.5,"I":18.5},{"p":"c","E":160.44,"I":23.7},{"p":"c","E":160.38,"I":36.5},{"p":"c","E":160.31,"I":28.9},{"p":"c","E":160.25,"I":20.4},{"p":"c","E":160.18,"I":34.6},{"p":"c","E":160.12,"I":22.7},{"p":"c","E":160.06,"I":15.6},{"p":"c","E":159.99,"I":13.7},{"p":"c","E":159.93,"I":23.2},{"p":"c","E":159.86,"I":25.6},{"p":"c","E":159.8,"I":23.2},{"p":"c","E":159.74,"I":12.8},{"p":"c","E":159.67,"I":22.3},{"p":"c","E":159.61,"I":13.3},{"p":"c","E":159.54,"I":14.2},{"p":"c","E":159.48,"I":23.2},{"p":"c","E":159.42,"I":5.7},{"p":"c","E":159.35,"I":13.7},{"p":"c","E":159.29,"I":26.5},{"p":"c","E":159.22,"I":26.1},{"p":"c","E":159.16,"I":27.0},{"p":"c","E":159.1,"I":21.8},{"p":"c","E":159.03,"I":13.7},{"p":"c","E":158.97,"I":14.2},{"p":"c","E":158.9,"I":26.1},{"p":"c","E":158.84,"I":20.9},{"p":"c","E":158.78,"I":17.5},{"p":"c","E":158.71,"I":15.2},{"p":"c","E":158.65,"I":21.3},{"p":"c","E":158.58,"I":15.2},{"p":"c","E":158.52,"I":11.8},{"p":"c","E":158.46,"I":23.2},{"p":"c","E":158.39,"I":13.7},{"p":"c","E":158.33,"I":19.4},{"p":"c","E":158.26,"I":10.9},{"p":"c","E":158.2,"I":5.7},{"p":"c","E":158.14,"I":3.8},{"p":"c","E":158.07,"I":17.5},{"p":"c","E":158.01,"I":11.8},{"p":"c","E":157.94,"I":20.4},{"p":"c","E":157.82,"I":14.7},{"p":"c","E":157.75,"I":20.4},{"p":"c","E":157.69,"I":13.7},{"p":"c","E":157.63,"I":8.1},{"p":"c","E":157.56,"I":21.3},{"p":"c","E":157.43,"I":7.1},{"p":"c","E":157.37,"I":21.3},{"p":"c","E":157.31,"I":19.0},{"p":"c","E":157.24,"I":4.7},{"p":"c","E":157.18,"I":7.1},{"p":"c","E":157.11,"I":5.7},{"p":"c","E":157.05,"I":16.6},{"p":"c","E":156.99,"I":11.8},{"p":"c","E":156.92,"I":6.2},{"p":"c","E":156.86,"I":19.0},{"p":"c","E":156.73,"I":7.1},{"p":"c","E":156.67,"I":18.0},{"p":"c","E":156.6,"I":9.0},{"p":"c","E":156.54,"I":13.7},{"p":"c","E":156.47,"I":7.1},{"p":"c","E":156.41,"I":18.0},{"p":"c","E":156.35,"I":11.8},{"p":"c","E":156.28,"I":7.1},{"p":"c","E":156.22,"I":10.0},{"p":"c","E":156.09,"I":10.0},{"p":"c","E":156.03,"I":26.1},
{"p":"d","E":172.9,"I":17.7},{"p":"d","E":172.83,"I":13.4},{"p":"d","E":172.81,"I":8.1},{"p":"d","E":172.73,"I":15.3},{"p":"d","E":172.68,"I":11.9},{"p":"d","E":172.6,"I":11.9},{"p":"d","E":172.51,"I":15.3},{"p":"d","E":172.48,"I":17.7},{"p":"d","E":172.39,"I":24.8},{"p":"d","E":172.32,"I":16.2},{"p":"d","E":172.26,"I":14.3},{"p":"d","E":172.17,"I":17.7},{"p":"d","E":172.12,"I":9.5},{"p":"d","E":172.07,"I":7.2},{"p":"d","E":172.0,"I":15.7},{"p":"d","E":171.94,"I":21.0},{"p":"d","E":171.87,"I":19.1},{"p":"d","E":171.81,"I":13.4},{"p":"d","E":171.75,"I":22.4},{"p":"d","E":171.68,"I":13.4},{"p":"d","E":171.62,"I":19.6},{"p":"d","E":171.55,"I":20.5},{"p":"d","E":171.49,"I":9.5},{"p":"d","E":171.43,"I":29.6},{"p":"d","E":171.36,"I":17.2},{"p":"d","E":171.3,"I":8.6},{"p":"d","E":171.23,"I":20.0},{"p":"d","E":171.17,"I":10.5},{"p":"d","E":171.11,"I":20.0},{"p":"d","E":171.04,"I":26.2},{"p":"d","E":170.98,"I":24.8},{"p":"d","E":170.91,"I":7.2},{"p":"d","E":170.85,"I":17.2},{"p":"d","E":170.78,"I":19.6},{"p":"d","E":170.72,"I":22.4},{"p":"d","E":170.66,"I":18.1},{"p":"d","E":170.59,"I":21.0},{"p":"d","E":170.53,"I":21.9},{"p":"d","E":170.4,"I":27.2},{"p":"d","E":170.34,"I":13.4},{"p":"d","E":170.27,"I":13.4},{"p":"d","E":170.21,"I":15.7},{"p":"d","E":170.14,"I":18.1},{"p":"d","E":170.08,"I":19.6},{"p":"d","E":170.02,"I":16.2},{"p":"d","E":169.95,"I":16.2},{"p":"d","E":169.89,"I":18.1},{"p":"d","E":169.82,"I":11.0},{"p":"d","E":169.76,"I":10.5},{"p":"d","E":169.7,"I":21.0},{"p":"d","E":169.63,"I":21.5},{"p":"d","E":169.57,"I":16.2},{"p":"d","E":169.5,"I":21.0},{"p":"d","E":169.44,"I":20.0},{"p":"d","E":169.38,"I":28.6},{"p":"d","E":169.31,"I":46.3},{"p":"d","E":169.25,"I":36.3},{"p":"d","E":169.18,"I":40.1},{"p":"d","E":169.12,"I":34.4},{"p":"d","E":169.06,"I":37.2},{"p":"d","E":168.99,"I":22.9},{"p":"d","E":168.93,"I":43.9},{"p":"d","E":168.86,"I":39.1},{"p":"d","E":168.8,"I":33.4},{"p":"d","E":168.74,"I":42.5},{"p":"d","E":168.67,"I":39.1},{"p":"d","E":168.61,"I":39.1},{"p":"d","E":168.54,"I":36.3},{"p":"d","E":168.48,"I":43.9},{"p":"d","E":168.42,"I":53.0},{"p":"d","E":168.35,"I":44.8},{"p":"d","E":168.29,"I":51.5},{"p":"d","E":168.22,"I":53.4},{"p":"d","E":168.16,"I":42.5},{"p":"d","E":168.1,"I":63.9},{"p":"d","E":168.03,"I":61.1},{"p":"d","E":167.97,"I":60.1},{"p":"d","E":167.9,"I":54.9},{"p":"d","E":167.84,"I":56.8},{"p":"d","E":167.78,"I":81.6},{"p":"d","E":167.71,"I":79.2},{"p":"d","E":167.65,"I":69.7},{"p":"d","E":167.58,"I":69.7},{"p":"d","E":167.52,"I":36.3},{"p":"d","E":167.46,"I":64.9},{"p":"d","E":167.39,"I":59.2},{"p":"d","E":167.33,"I":66.8},{"p":"d","E":167.26,"I":44.8},{"p":"d","E":167.2,"I":60.1},{"p":"d","E":167.14,"I":48.2},{"p":"d","E":167.07,"I":69.7},{"p":"d","E":167.01,"I":53.0},{"p":"d","E":166.94,"I":46.8},{"p":"d","E":166.88,"I":47.7},{"p":"d","E":166.82,"I":40.1},{"p":"d","E":166.75,"I":35.3},{"p":"d","E":166.69,"I":50.6},{"p":"d","E":166.62,"I":36.3},{"p":"d","E":166.56,"I":56.8},{"p":"d","E":166.5,"I":42.0},{"p":"d","E":166.43,"I":36.3},{"p":"d","E":166.37,"I":32.4},{"p":"d","E":166.3,"I":34.4},{"p":"d","E":166.24,"I":30.5},{"p":"d","E":166.18,"I":34.4},{"p":"d","E":166.11,"I":34.8},{"p":"d","E":166.05,"I":26.2},{"p":"d","E":165.98,"I":32.4},{"p":"d","E":165.92,"I":33.4},{"p":"d","E":165.86,"I":29.6},{"p":"d","E":165.79,"I":32.4},{"p":"d","E":165.73,"I":44.8},{"p":"d","E":165.66,"I":48.7},{"p":"d","E":165.6,"I":28.6},{"p":"d","E":165.54,"I":25.8},{"p":"d","E":165.41,"I":43.9},{"p":"d","E":165.34,"I":30.5},{"p":"d","E":165.28,"I":21.0},{"p":"d","E":165.22,"I":27.2},{"p":"d","E":165.15,"I":22.9},{"p":"d","E":165.02,"I":21.0},{"p":"d","E":164.96,"I":39.1},{"p":"d","E":164.9,"I":34.8},{"p":"d","E":164.83,"I":37.2},{"p":"d","E":164.77,"I":21.0},{"p":"d","E":164.7,"I":15.3},{"p":"d","E":164.64,"I":27.2},{"p":"d","E":164.51,"I":34.4},{"p":"d","E":164.45,"I":20.0},{"p":"d","E":164.38,"I":20.0},{"p":"d","E":164.32,"I":18.6},{"p":"d","E":164.25,"I":21.0},{"p":"d","E":164.19,"I":13.4},{"p":"d","E":164.13,"I":14.3},{"p":"d","E":164.06,"I":18.1},{"p":"d","E":164.0,"I":18.6},{"p":"d","E":163.93,"I":19.1},{"p":"d","E":163.87,"I":18.1},{"p":"d","E":163.81,"I":22.9},{"p":"d","E":163.74,"I":21.5},{"p":"d","E":163.68,"I":17.2},{"p":"d","E":163.61,"I":20.0},{"p":"d","E":163.49,"I":16.7},{"p":"d","E":163.42,"I":21.9},{"p":"d","E":163.36,"I":26.2},{"p":"d","E":163.29,"I":24.8},{"p":"d","E":163.23,"I":23.9},{"p":"d","E":163.17,"I":10.5},{"p":"d","E":163.1,"I":21.9},{"p":"d","E":163.04,"I":25.8},{"p":"d","E":162.97,"I":22.9},{"p":"d","E":162.91,"I":14.8},{"p":"d","E":162.85,"I":19.1},{"p":"d","E":162.78,"I":16.2},{"p":"d","E":162.72,"I":18.6},{"p":"d","E":162.65,"I":23.4},{"p":"d","E":162.59,"I":24.8},{"p":"d","E":162.53,"I":21.9},{"p":"d","E":162.46,"I":21.0},{"p":"d","E":162.4,"I":16.7},{"p":"d","E":162.33,"I":31.5},{"p":"d","E":162.27,"I":22.9},{"p":"d","E":162.21,"I":20.5},{"p":"d","E":162.14,"I":18.1},{"p":"d","E":162.08,"I":28.6},{"p":"d","E":162.01,"I":25.8},{"p":"d","E":161.95,"I":28.6},{"p":"d","E":161.89,"I":10.5},{"p":"d","E":161.82,"I":23.4},{"p":"d","E":161.76,"I":24.8},{"p":"d","E":161.69,"I":23.9},{"p":"d","E":161.63,"I":27.7},{"p":"d","E":161.57,"I":29.6},{"p":"d","E":161.5,"I":25.8},{"p":"d","E":161.44,"I":27.2},{"p":"d","E":161.37,"I":25.8},{"p":"d","E":161.31,"I":28.6},{"p":"d","E":161.25,"I":20.0},{"p":"d","E":161.18,"I":24.8},{"p":"d","E":161.12,"I":22.9},{"p":"d","E":161.05,"I":25.8},{"p":"d","E":160.99,"I":15.7},{"p":"d","E":160.93,"I":21.0},{"p":"d","E":160.86,"I":19.1},{"p":"d","E":160.8,"I":23.9},{"p":"d","E":160.73,"I":25.8},{"p":"d","E":160.67,"I":31.5},{"p":"d","E":160.61,"I":31.0},{"p":"d","E":160.54,"I":23.4},{"p":"d","E":160.48,"I":25.8},{"p":"d","E":160.41,"I":24.8},{"p":"d","E":160.35,"I":21.0},{"p":"d","E":160.29,"I":17.2},{"p":"d","E":160.22,"I":21.5},{"p":"d","E":160.16,"I":25.8},{"p":"d","E":160.09,"I":29.6},{"p":"d","E":160.03,"I":25.8},{"p":"d","E":159.97,"I":17.7},{"p":"d","E":159.9,"I":18.1},{"p":"d","E":159.84,"I":33.4},{"p":"d","E":159.77,"I":28.6},{"p":"d","E":159.71,"I":24.3},{"p":"d","E":159.65,"I":25.8},{"p":"d","E":159.58,"I":21.9},{"p":"d","E":159.52,"I":18.6},{"p":"d","E":159.45,"I":14.3},{"p":"d","E":159.39,"I":25.8},{"p":"d","E":159.33,"I":29.6},{"p":"d","E":159.26,"I":34.4},{"p":"d","E":159.2,"I":22.9},{"p":"d","E":159.13,"I":29.1},{"p":"d","E":159.07,"I":27.7},{"p":"d","E":159.01,"I":25.8},{"p":"d","E":158.94,"I":11.9},{"p":"d","E":158.88,"I":21.0},{"p":"d","E":158.81,"I":22.9},{"p":"d","E":158.75,"I":20.0},{"p":"d","E":158.69,"I":17.7},{"p":"d","E":158.62,"I":25.8},{"p":"d","E":158.56,"I":13.4},{"p":"d","E":158.49,"I":29.6},{"p":"d","E":158.43,"I":22.9},{"p":"d","E":158.37,"I":25.8},{"p":"d","E":158.3,"I":21.0},{"p":"d","E":158.24,"I":20.0},{"p":"d","E":158.17,"I":15.3},{"p":"d","E":158.11,"I":25.8},{"p":"d","E":158.05,"I":21.0},{"p":"d","E":157.98,"I":19.1},{"p":"d","E":157.92,"I":13.4},{"p":"d","E":157.85,"I":24.8},{"p":"d","E":157.79,"I":25.8},{"p":"d","E":157.72,"I":15.3},{"p":"d","E":157.66,"I":10.5},{"p":"d","E":157.6,"I":10.5},{"p":"d","E":157.53,"I":21.0},{"p":"d","E":157.47,"I":17.2},{"p":"d","E":157.4,"I":27.2},{"p":"d","E":157.34,"I":14.3},{"p":"d","E":157.28,"I":22.4},{"p":"d","E":157.21,"I":24.8},{"p":"d","E":157.15,"I":24.8},{"p":"d","E":157.08,"I":18.1},{"p":"d","E":157.02,"I":21.0},{"p":"d","E":156.96,"I":14.3},{"p":"d","E":156.89,"I":21.9},{"p":"d","E":156.83,"I":15.3},{"p":"d","E":156.76,"I":14.3},{"p":"d","E":156.7,"I":22.9},{"p":"d","E":156.64,"I":19.1},{"p":"d","E":156.57,"I":23.4},{"p":"d","E":156.51,"I":15.3},{"p":"d","E":156.44,"I":13.4},{"p":"d","E":156.38,"I":7.2},{"p":"d","E":156.32,"I":9.5},{"p":"d","E":156.25,"I":13.4},{"p":"d","E":156.19,"I":19.1},{"p":"d","E":156.12,"I":21.9}
],
"lbl":[
{"p":"a","g":"L","E":174.16,"I":89.9,"t":"a","tone":"k"},
{"p":"a","g":"cm","E":172.33,"I":93.4,"t":"1M LiTFSI in DOL/DME","tone":"k"},
{"p":"a","g":"fm","E":168.47,"I":69.8,"t":"Li","tone":"k"},
{"p":"a","g":"fs","E":167.58,"I":68.3,"t":"2","tone":"k"},
{"p":"a","g":"fm","E":167.2,"I":69.8,"t":"S","tone":"r"},
{"p":"a","g":"fm","E":166.64,"I":69.8,"t":"O","tone":"k"},
{"p":"a","g":"fs","E":165.87,"I":68.3,"t":"x","tone":"k"},
{"p":"a","g":"fm","E":162.13,"I":81.9,"t":"Li","tone":"k"},
{"p":"a","g":"fs","E":161.25,"I":80.4,"t":"2","tone":"k"},
{"p":"a","g":"fm","E":160.93,"I":81.9,"t":"S","tone":"b"},
{"p":"a","g":"fm","E":160.42,"I":81.9,"t":",","tone":"k"},
{"p":"a","g":"fm","E":159.87,"I":81.9,"t":"Li","tone":"k"},
{"p":"a","g":"fs","E":158.99,"I":80.4,"t":"2","tone":"k"},
{"p":"a","g":"fm","E":158.65,"I":81.9,"t":"S","tone":"b"},
{"p":"a","g":"fs","E":158.07,"I":80.4,"t":"2","tone":"k"},
{"p":"b","g":"L","E":174.19,"I":88.5,"t":"b","tone":"k"},
{"p":"b","g":"cm","E":172.32,"I":93.4,"t":"1M LiTFSI, 0.5M LiNO","tone":"k"},
{"p":"b","g":"cs","E":167.21,"I":92.3,"t":"3","tone":"k"},
{"p":"b","g":"cm","E":166.89,"I":93.4,"t":"in DOL/DME","tone":"k"},
{"p":"b","g":"fm","E":168.54,"I":74.2,"t":"Li","tone":"k"},
{"p":"b","g":"fs","E":167.65,"I":72.7,"t":"2","tone":"k"},
{"p":"b","g":"fm","E":167.27,"I":74.2,"t":"S","tone":"r"},
{"p":"b","g":"fm","E":166.71,"I":74.2,"t":"O","tone":"k"},
{"p":"b","g":"fs","E":165.94,"I":72.7,"t":"x","tone":"k"},
{"p":"b","g":"fm","E":163.29,"I":49.6,"t":"Li","tone":"k"},
{"p":"b","g":"fs","E":162.41,"I":48.1,"t":"2","tone":"k"},
{"p":"b","g":"fm","E":162.09,"I":49.6,"t":"S","tone":"b"},
{"p":"b","g":"fm","E":161.58,"I":49.6,"t":",","tone":"k"},
{"p":"b","g":"fm","E":161.03,"I":49.6,"t":"Li","tone":"k"},
{"p":"b","g":"fs","E":160.15,"I":48.1,"t":"2","tone":"k"},
{"p":"b","g":"fm","E":159.81,"I":49.6,"t":"S","tone":"b"},
{"p":"b","g":"fs","E":159.23,"I":48.1,"t":"2","tone":"k"},
{"p":"c","g":"L","E":174.27,"I":89.3,"t":"c","tone":"k"},
{"p":"c","g":"cm","E":172.1,"I":89.6,"t":"4M LiTFSI in DOL/DME","tone":"k"},
{"p":"c","g":"fm","E":169.27,"I":51.2,"t":"Li","tone":"k"},
{"p":"c","g":"fs","E":168.38,"I":49.7,"t":"2","tone":"k"},
{"p":"c","g":"fm","E":168.0,"I":51.2,"t":"S","tone":"r"},
{"p":"c","g":"fm","E":167.44,"I":51.2,"t":"O","tone":"k"},
{"p":"c","g":"fs","E":166.67,"I":49.7,"t":"x","tone":"k"},
{"p":"c","g":"fm","E":163.13,"I":51.2,"t":"Li","tone":"k"},
{"p":"c","g":"fs","E":162.25,"I":49.7,"t":"2","tone":"k"},
{"p":"c","g":"fm","E":161.93,"I":51.2,"t":"S","tone":"b"},
{"p":"c","g":"fm","E":161.42,"I":51.2,"t":",","tone":"k"},
{"p":"c","g":"fm","E":160.87,"I":51.2,"t":"Li","tone":"k"},
{"p":"c","g":"fs","E":159.99,"I":49.7,"t":"2","tone":"k"},
{"p":"c","g":"fm","E":159.65,"I":51.2,"t":"S","tone":"b"},
{"p":"c","g":"fs","E":159.07,"I":49.7,"t":"2","tone":"k"},
{"p":"d","g":"L","E":174.17,"I":86.5,"t":"d","tone":"k"},
{"p":"d","g":"cm","E":172.22,"I":93.2,"t":"4M LiTFSI, 0.5M LiNO","tone":"k"},
{"p":"d","g":"cs","E":167.11,"I":92.1,"t":"3","tone":"k"},
{"p":"d","g":"cm","E":166.79,"I":93.2,"t":"in DOL/DME","tone":"k"},
{"p":"d","g":"fm","E":168.72,"I":73.0,"t":"Li","tone":"k"},
{"p":"d","g":"fs","E":167.83,"I":71.5,"t":"2","tone":"k"},
{"p":"d","g":"fm","E":167.45,"I":73.0,"t":"S","tone":"r"},
{"p":"d","g":"fm","E":166.89,"I":73.0,"t":"O","tone":"k"},
{"p":"d","g":"fs","E":166.12,"I":71.5,"t":"x","tone":"k"},
{"p":"d","g":"fm","E":163.29,"I":42.5,"t":"Li","tone":"k"},
{"p":"d","g":"fs","E":162.41,"I":41.0,"t":"2","tone":"k"},
{"p":"d","g":"fm","E":162.09,"I":42.5,"t":"S","tone":"b"},
{"p":"d","g":"fm","E":161.58,"I":42.5,"t":",","tone":"k"},
{"p":"d","g":"fm","E":161.03,"I":42.5,"t":"Li","tone":"k"},
{"p":"d","g":"fs","E":160.15,"I":41.0,"t":"2","tone":"k"},
{"p":"d","g":"fm","E":159.81,"I":42.5,"t":"S","tone":"b"},
{"p":"d","g":"fs","E":159.23,"I":41.0,"t":"2","tone":"k"}
]
},
"concat":[
{"width":463,"height":347,
"encoding":{"x":{"field":"E","type":"quantitative","scale":{"domain":[156,173],"reverse":true,"nice":false,"zero":false},"axis":{"title":"Binding energy (eV)","titlePadding":1,"values":[156,157,158,159,160,161,162,163,164,165,166,167,168,169,170,171,172],"labelExpr":"datum.value % 2 === 0 ? datum.label : ''"}}},
"layer":[
{"data":{"name":"cv"},"transform":[{"filter":"datum.p==='a'"}],"mark":{"type":"area","interpolate":"monotone","color":"#E5502F","opacity":1,"line":{"color":"#5a2a1c","strokeWidth":0.7,"strokeOpacity":0.6}},"encoding":{"y":{"field":"r","type":"quantitative","scale":{"domain":[0,100],"nice":false,"zero":false},"title":"Intensity (a.u.)"},"y2":{"field":"base"}}},
{"data":{"name":"cv"},"transform":[{"filter":"datum.p==='a'"}],"mark":{"type":"area","interpolate":"monotone","color":"#F3956C","opacity":1,"line":{"color":"#5a2a1c","strokeWidth":0.7,"strokeOpacity":0.6}},"encoding":{"y":{"field":"o","type":"quantitative","scale":{"domain":[0,100],"nice":false,"zero":false},"title":"Intensity (a.u.)"},"y2":{"field":"base"}}},
{"data":{"name":"cv"},"transform":[{"filter":"datum.p==='a'"}],"mark":{"type":"area","interpolate":"monotone","color":"#62A0CF","opacity":1,"line":{"color":"#1f3b55","strokeWidth":0.7,"strokeOpacity":0.6}},"encoding":{"y":{"field":"db","type":"quantitative","scale":{"domain":[0,100],"nice":false,"zero":false},"title":"Intensity (a.u.)"},"y2":{"field":"base"}}},
{"data":{"name":"cv"},"transform":[{"filter":"datum.p==='a'"}],"mark":{"type":"area","interpolate":"monotone","color":"#A4CCEA","opacity":1,"line":{"color":"#1f3b55","strokeWidth":0.7,"strokeOpacity":0.6}},"encoding":{"y":{"field":"lb","type":"quantitative","scale":{"domain":[0,100],"nice":false,"zero":false},"title":"Intensity (a.u.)"},"y2":{"field":"base"}}},
{"data":{"name":"cv"},"transform":[{"filter":"datum.p==='a'"}],"mark":{"type":"line","interpolate":"monotone","color":"#333333","strokeWidth":1.2},"encoding":{"y":{"field":"base","type":"quantitative","scale":{"domain":[0,100],"nice":false,"zero":false},"title":"Intensity (a.u.)"}}},
{"data":{"name":"cv"},"transform":[{"filter":"datum.p==='a'"}],"mark":{"type":"line","interpolate":"monotone","color":"#1a1a1a","strokeWidth":1.6},"encoding":{"y":{"field":"env","type":"quantitative","scale":{"domain":[0,100],"nice":false,"zero":false},"title":"Intensity (a.u.)"}}},
{"data":{"name":"pts"},"transform":[{"filter":"datum.p==='a'"}],"mark":{"type":"circle","size":17,"fill":"#ffffff","stroke":"#8a8a8a","strokeWidth":0.9,"opacity":1},"encoding":{"y":{"field":"I","type":"quantitative","scale":{"domain":[0,100],"nice":false,"zero":false},"title":"Intensity (a.u.)"}}},
{"data":{"name":"lbl"},"transform":[{"filter":"datum.p==='a' && datum.g==='L'"}],"mark":{"type":"text","font":"Liberation Sans","fontWeight":"bold","fontSize":66,"align":"center","baseline":"alphabetic","color":"#000000"},"encoding":{"y":{"field":"I","type":"quantitative","scale":{"domain":[0,100],"nice":false,"zero":false},"title":"Intensity (a.u.)"},"text":{"field":"t"}}},
{"data":{"name":"lbl"},"transform":[{"filter":"datum.p==='a' && datum.g==='cm'"}],"mark":{"type":"text","font":"Liberation Sans","fontSize":14,"align":"left","baseline":"middle","color":"#333333"},"encoding":{"y":{"field":"I","type":"quantitative","scale":{"domain":[0,100],"nice":false,"zero":false},"title":"Intensity (a.u.)"},"text":{"field":"t"}}},
{"data":{"name":"lbl"},"transform":[{"filter":"datum.p==='a' && datum.g==='fm'"}],"mark":{"type":"text","font":"Lato","fontWeight":"bold","fontSize":30,"align":"left","baseline":"alphabetic"},"encoding":{"y":{"field":"I","type":"quantitative","scale":{"domain":[0,100],"nice":false,"zero":false},"title":"Intensity (a.u.)"},"text":{"field":"t"},"color":{"field":"tone","type":"nominal","scale":{"domain":["k","r","b"],"range":["#111111","#E84C2E","#5FA0D8"]},"legend":null}}},
{"data":{"name":"lbl"},"transform":[{"filter":"datum.p==='a' && datum.g==='fs'"}],"mark":{"type":"text","font":"Lato","fontWeight":"bold","fontSize":19,"align":"left","baseline":"alphabetic","color":"#111111"},"encoding":{"y":{"field":"I","type":"quantitative","scale":{"domain":[0,100],"nice":false,"zero":false},"title":"Intensity (a.u.)"},"text":{"field":"t"}}}
]},
{"width":463,"height":347,
"encoding":{"x":{"field":"E","type":"quantitative","scale":{"domain":[156,173],"reverse":true,"nice":false,"zero":false},"axis":{"title":"Binding energy (eV)","titlePadding":1,"values":[156,157,158,159,160,161,162,163,164,165,166,167,168,169,170,171,172],"labelExpr":"datum.value % 2 === 0 ? datum.label : ''"}}},
"layer":[
{"data":{"name":"cv"},"transform":[{"filter":"datum.p==='b'"}],"mark":{"type":"area","interpolate":"monotone","color":"#E5502F","opacity":1,"line":{"color":"#5a2a1c","strokeWidth":0.7,"strokeOpacity":0.6}},"encoding":{"y":{"field":"r","type":"quantitative","scale":{"domain":[0,100],"nice":false,"zero":false},"title":"Intensity (a.u.)"},"y2":{"field":"base"}}},
{"data":{"name":"cv"},"transform":[{"filter":"datum.p==='b'"}],"mark":{"type":"area","interpolate":"monotone","color":"#F3956C","opacity":1,"line":{"color":"#5a2a1c","strokeWidth":0.7,"strokeOpacity":0.6}},"encoding":{"y":{"field":"o","type":"quantitative","scale":{"domain":[0,100],"nice":false,"zero":false},"title":"Intensity (a.u.)"},"y2":{"field":"base"}}},
{"data":{"name":"cv"},"transform":[{"filter":"datum.p==='b'"}],"mark":{"type":"area","interpolate":"monotone","color":"#62A0CF","opacity":1,"line":{"color":"#1f3b55","strokeWidth":0.7,"strokeOpacity":0.6}},"encoding":{"y":{"field":"db","type":"quantitative","scale":{"domain":[0,100],"nice":false,"zero":false},"title":"Intensity (a.u.)"},"y2":{"field":"base"}}},
{"data":{"name":"cv"},"transform":[{"filter":"datum.p==='b'"}],"mark":{"type":"area","interpolate":"monotone","color":"#A4CCEA","opacity":1,"line":{"color":"#1f3b55","strokeWidth":0.7,"strokeOpacity":0.6}},"encoding":{"y":{"field":"lb","type":"quantitative","scale":{"domain":[0,100],"nice":false,"zero":false},"title":"Intensity (a.u.)"},"y2":{"field":"base"}}},
{"data":{"name":"cv"},"transform":[{"filter":"datum.p==='b'"}],"mark":{"type":"line","interpolate":"monotone","color":"#333333","strokeWidth":1.2},"encoding":{"y":{"field":"base","type":"quantitative","scale":{"domain":[0,100],"nice":false,"zero":false},"title":"Intensity (a.u.)"}}},
{"data":{"name":"cv"},"transform":[{"filter":"datum.p==='b'"}],"mark":{"type":"line","interpolate":"monotone","color":"#1a1a1a","strokeWidth":1.6},"encoding":{"y":{"field":"env","type":"quantitative","scale":{"domain":[0,100],"nice":false,"zero":false},"title":"Intensity (a.u.)"}}},
{"data":{"name":"pts"},"transform":[{"filter":"datum.p==='b'"}],"mark":{"type":"circle","size":17,"fill":"#ffffff","stroke":"#8a8a8a","strokeWidth":0.9,"opacity":1},"encoding":{"y":{"field":"I","type":"quantitative","scale":{"domain":[0,100],"nice":false,"zero":false},"title":"Intensity (a.u.)"}}},
{"data":{"name":"lbl"},"transform":[{"filter":"datum.p==='b' && datum.g==='L'"}],"mark":{"type":"text","font":"Liberation Sans","fontWeight":"bold","fontSize":66,"align":"center","baseline":"alphabetic","color":"#000000"},"encoding":{"y":{"field":"I","type":"quantitative","scale":{"domain":[0,100],"nice":false,"zero":false},"title":"Intensity (a.u.)"},"text":{"field":"t"}}},
{"data":{"name":"lbl"},"transform":[{"filter":"datum.p==='b' && datum.g==='cm'"}],"mark":{"type":"text","font":"Liberation Sans","fontSize":14,"align":"left","baseline":"middle","color":"#333333"},"encoding":{"y":{"field":"I","type":"quantitative","scale":{"domain":[0,100],"nice":false,"zero":false},"title":"Intensity (a.u.)"},"text":{"field":"t"}}},
{"data":{"name":"lbl"},"transform":[{"filter":"datum.p==='b' && datum.g==='cs'"}],"mark":{"type":"text","font":"Liberation Sans","fontSize":9,"align":"left","baseline":"middle","color":"#333333"},"encoding":{"y":{"field":"I","type":"quantitative","scale":{"domain":[0,100],"nice":false,"zero":false},"title":"Intensity (a.u.)"},"text":{"field":"t"}}},
{"data":{"name":"lbl"},"transform":[{"filter":"datum.p==='b' && datum.g==='fm'"}],"mark":{"type":"text","font":"Lato","fontWeight":"bold","fontSize":30,"align":"left","baseline":"alphabetic"},"encoding":{"y":{"field":"I","type":"quantitative","scale":{"domain":[0,100],"nice":false,"zero":false},"title":"Intensity (a.u.)"},"text":{"field":"t"},"color":{"field":"tone","type":"nominal","scale":{"domain":["k","r","b"],"range":["#111111","#E84C2E","#5FA0D8"]},"legend":null}}},
{"data":{"name":"lbl"},"transform":[{"filter":"datum.p==='b' && datum.g==='fs'"}],"mark":{"type":"text","font":"Lato","fontWeight":"bold","fontSize":19,"align":"left","baseline":"alphabetic","color":"#111111"},"encoding":{"y":{"field":"I","type":"quantitative","scale":{"domain":[0,100],"nice":false,"zero":false},"title":"Intensity (a.u.)"},"text":{"field":"t"}}}
]},
{"width":463,"height":347,
"encoding":{"x":{"field":"E","type":"quantitative","scale":{"domain":[156,173],"reverse":true,"nice":false,"zero":false},"axis":{"title":"Binding energy (eV)","titlePadding":10,"values":[156,157,158,159,160,161,162,163,164,165,166,167,168,169,170,171,172],"labelExpr":"datum.value % 2 === 0 ? datum.label : ''"}}},
"layer":[
{"data":{"name":"cv"},"transform":[{"filter":"datum.p==='c'"}],"mark":{"type":"area","interpolate":"monotone","color":"#E5502F","opacity":1,"line":{"color":"#5a2a1c","strokeWidth":0.7,"strokeOpacity":0.6}},"encoding":{"y":{"field":"r","type":"quantitative","scale":{"domain":[0,100],"nice":false,"zero":false},"title":"Intensity (a.u.)"},"y2":{"field":"base"}}},
{"data":{"name":"cv"},"transform":[{"filter":"datum.p==='c'"}],"mark":{"type":"area","interpolate":"monotone","color":"#F3956C","opacity":1,"line":{"color":"#5a2a1c","strokeWidth":0.7,"strokeOpacity":0.6}},"encoding":{"y":{"field":"o","type":"quantitative","scale":{"domain":[0,100],"nice":false,"zero":false},"title":"Intensity (a.u.)"},"y2":{"field":"base"}}},
{"data":{"name":"cv"},"transform":[{"filter":"datum.p==='c'"}],"mark":{"type":"area","interpolate":"monotone","color":"#62A0CF","opacity":1,"line":{"color":"#1f3b55","strokeWidth":0.7,"strokeOpacity":0.6}},"encoding":{"y":{"field":"db","type":"quantitative","scale":{"domain":[0,100],"nice":false,"zero":false},"title":"Intensity (a.u.)"},"y2":{"field":"base"}}},
{"data":{"name":"cv"},"transform":[{"filter":"datum.p==='c'"}],"mark":{"type":"area","interpolate":"monotone","color":"#A4CCEA","opacity":1,"line":{"color":"#1f3b55","strokeWidth":0.7,"strokeOpacity":0.6}},"encoding":{"y":{"field":"lb","type":"quantitative","scale":{"domain":[0,100],"nice":false,"zero":false},"title":"Intensity (a.u.)"},"y2":{"field":"base"}}},
{"data":{"name":"cv"},"transform":[{"filter":"datum.p==='c'"}],"mark":{"type":"line","interpolate":"monotone","color":"#333333","strokeWidth":1.2},"encoding":{"y":{"field":"base","type":"quantitative","scale":{"domain":[0,100],"nice":false,"zero":false},"title":"Intensity (a.u.)"}}},
{"data":{"name":"cv"},"transform":[{"filter":"datum.p==='c'"}],"mark":{"type":"line","interpolate":"monotone","color":"#1a1a1a","strokeWidth":1.6},"encoding":{"y":{"field":"env","type":"quantitative","scale":{"domain":[0,100],"nice":false,"zero":false},"title":"Intensity (a.u.)"}}},
{"data":{"name":"pts"},"transform":[{"filter":"datum.p==='c'"}],"mark":{"type":"circle","size":17,"fill":"#ffffff","stroke":"#8a8a8a","strokeWidth":0.9,"opacity":1},"encoding":{"y":{"field":"I","type":"quantitative","scale":{"domain":[0,100],"nice":false,"zero":false},"title":"Intensity (a.u.)"}}},
{"data":{"name":"lbl"},"transform":[{"filter":"datum.p==='c' && datum.g==='L'"}],"mark":{"type":"text","font":"Liberation Sans","fontWeight":"bold","fontSize":66,"align":"center","baseline":"alphabetic","color":"#000000"},"encoding":{"y":{"field":"I","type":"quantitative","scale":{"domain":[0,100],"nice":false,"zero":false},"title":"Intensity (a.u.)"},"text":{"field":"t"}}},
{"data":{"name":"lbl"},"transform":[{"filter":"datum.p==='c' && datum.g==='cm'"}],"mark":{"type":"text","font":"Liberation Sans","fontSize":14,"align":"left","baseline":"middle","color":"#333333"},"encoding":{"y":{"field":"I","type":"quantitative","scale":{"domain":[0,100],"nice":false,"zero":false},"title":"Intensity (a.u.)"},"text":{"field":"t"}}},
{"data":{"name":"lbl"},"transform":[{"filter":"datum.p==='c' && datum.g==='fm'"}],"mark":{"type":"text","font":"Lato","fontWeight":"bold","fontSize":30,"align":"left","baseline":"alphabetic"},"encoding":{"y":{"field":"I","type":"quantitative","scale":{"domain":[0,100],"nice":false,"zero":false},"title":"Intensity (a.u.)"},"text":{"field":"t"},"color":{"field":"tone","type":"nominal","scale":{"domain":["k","r","b"],"range":["#111111","#E84C2E","#5FA0D8"]},"legend":null}}},
{"data":{"name":"lbl"},"transform":[{"filter":"datum.p==='c' && datum.g==='fs'"}],"mark":{"type":"text","font":"Lato","fontWeight":"bold","fontSize":19,"align":"left","baseline":"alphabetic","color":"#111111"},"encoding":{"y":{"field":"I","type":"quantitative","scale":{"domain":[0,100],"nice":false,"zero":false},"title":"Intensity (a.u.)"},"text":{"field":"t"}}}
]},
{"width":463,"height":347,
"encoding":{"x":{"field":"E","type":"quantitative","scale":{"domain":[156,173],"reverse":true,"nice":false,"zero":false},"axis":{"title":"Binding energy (eV)","titlePadding":10,"values":[156,157,158,159,160,161,162,163,164,165,166,167,168,169,170,171,172],"labelExpr":"datum.value % 2 === 0 ? datum.label : ''"}}},
"layer":[
{"data":{"name":"cv"},"transform":[{"filter":"datum.p==='d'"}],"mark":{"type":"area","interpolate":"monotone","color":"#E5502F","opacity":1,"line":{"color":"#5a2a1c","strokeWidth":0.7,"strokeOpacity":0.6}},"encoding":{"y":{"field":"r","type":"quantitative","scale":{"domain":[0,100],"nice":false,"zero":false},"title":"Intensity (a.u.)"},"y2":{"field":"base"}}},
{"data":{"name":"cv"},"transform":[{"filter":"datum.p==='d'"}],"mark":{"type":"area","interpolate":"monotone","color":"#F3956C","opacity":1,"line":{"color":"#5a2a1c","strokeWidth":0.7,"strokeOpacity":0.6}},"encoding":{"y":{"field":"o","type":"quantitative","scale":{"domain":[0,100],"nice":false,"zero":false},"title":"Intensity (a.u.)"},"y2":{"field":"base"}}},
{"data":{"name":"cv"},"transform":[{"filter":"datum.p==='d'"}],"mark":{"type":"area","interpolate":"monotone","color":"#62A0CF","opacity":1,"line":{"color":"#1f3b55","strokeWidth":0.7,"strokeOpacity":0.6}},"encoding":{"y":{"field":"db","type":"quantitative","scale":{"domain":[0,100],"nice":false,"zero":false},"title":"Intensity (a.u.)"},"y2":{"field":"base"}}},
{"data":{"name":"cv"},"transform":[{"filter":"datum.p==='d'"}],"mark":{"type":"area","interpolate":"monotone","color":"#A4CCEA","opacity":1,"line":{"color":"#1f3b55","strokeWidth":0.7,"strokeOpacity":0.6}},"encoding":{"y":{"field":"lb","type":"quantitative","scale":{"domain":[0,100],"nice":false,"zero":false},"title":"Intensity (a.u.)"},"y2":{"field":"base"}}},
{"data":{"name":"cv"},"transform":[{"filter":"datum.p==='d'"}],"mark":{"type":"line","interpolate":"monotone","color":"#333333","strokeWidth":1.2},"encoding":{"y":{"field":"base","type":"quantitative","scale":{"domain":[0,100],"nice":false,"zero":false},"title":"Intensity (a.u.)"}}},
{"data":{"name":"cv"},"transform":[{"filter":"datum.p==='d'"}],"mark":{"type":"line","interpolate":"monotone","color":"#1a1a1a","strokeWidth":1.6},"encoding":{"y":{"field":"env","type":"quantitative","scale":{"domain":[0,100],"nice":false,"zero":false},"title":"Intensity (a.u.)"}}},
{"data":{"name":"pts"},"transform":[{"filter":"datum.p==='d'"}],"mark":{"type":"circle","size":17,"fill":"#ffffff","stroke":"#8a8a8a","strokeWidth":0.9,"opacity":1},"encoding":{"y":{"field":"I","type":"quantitative","scale":{"domain":[0,100],"nice":false,"zero":false},"title":"Intensity (a.u.)"}}},
{"data":{"name":"lbl"},"transform":[{"filter":"datum.p==='d' && datum.g==='L'"}],"mark":{"type":"text","font":"Liberation Sans","fontWeight":"bold","fontSize":66,"align":"center","baseline":"alphabetic","color":"#000000"},"encoding":{"y":{"field":"I","type":"quantitative","scale":{"domain":[0,100],"nice":false,"zero":false},"title":"Intensity (a.u.)"},"text":{"field":"t"}}},
{"data":{"name":"lbl"},"transform":[{"filter":"datum.p==='d' && datum.g==='cm'"}],"mark":{"type":"text","font":"Liberation Sans","fontSize":14,"align":"left","baseline":"middle","color":"#333333"},"encoding":{"y":{"field":"I","type":"quantitative","scale":{"domain":[0,100],"nice":false,"zero":false},"title":"Intensity (a.u.)"},"text":{"field":"t"}}},
{"data":{"name":"lbl"},"transform":[{"filter":"datum.p==='d' && datum.g==='cs'"}],"mark":{"type":"text","font":"Liberation Sans","fontSize":9,"align":"left","baseline":"middle","color":"#333333"},"encoding":{"y":{"field":"I","type":"quantitative","scale":{"domain":[0,100],"nice":false,"zero":false},"title":"Intensity (a.u.)"},"text":{"field":"t"}}},
{"data":{"name":"lbl"},"transform":[{"filter":"datum.p==='d' && datum.g==='fm'"}],"mark":{"type":"text","font":"Lato","fontWeight":"bold","fontSize":30,"align":"left","baseline":"alphabetic"},"encoding":{"y":{"field":"I","type":"quantitative","scale":{"domain":[0,100],"nice":false,"zero":false},"title":"Intensity (a.u.)"},"text":{"field":"t"},"color":{"field":"tone","type":"nominal","scale":{"domain":["k","r","b"],"range":["#111111","#E84C2E","#5FA0D8"]},"legend":null}}},
{"data":{"name":"lbl"},"transform":[{"filter":"datum.p==='d' && datum.g==='fs'"}],"mark":{"type":"text","font":"Lato","fontWeight":"bold","fontSize":19,"align":"left","baseline":"alphabetic","color":"#111111"},"encoding":{"y":{"field":"I","type":"quantitative","scale":{"domain":[0,100],"nice":false,"zero":false},"title":"Intensity (a.u.)"},"text":{"field":"t"}}}
]}
],
"config":{
"view":{"stroke":"#3a3a3a","strokeWidth":1.6},
"font":"Liberation Sans",
"axis":{"grid":false},
"axisX":{"domain":false,"tickSize":5,"tickColor":"#333333","tickWidth":1.3,"labelFontSize":15,"labelColor":"#222222","labelPadding":2,"labelFlush":false,"labelOverlap":false,"titleFontSize":22,"titleFontWeight":"bold","titleColor":"#111111"},
"axisY":{"domain":false,"ticks":false,"labels":false,"titleFontSize":22,"titleFontWeight":"bold","titleColor":"#111111","titlePadding":10}
}
}
